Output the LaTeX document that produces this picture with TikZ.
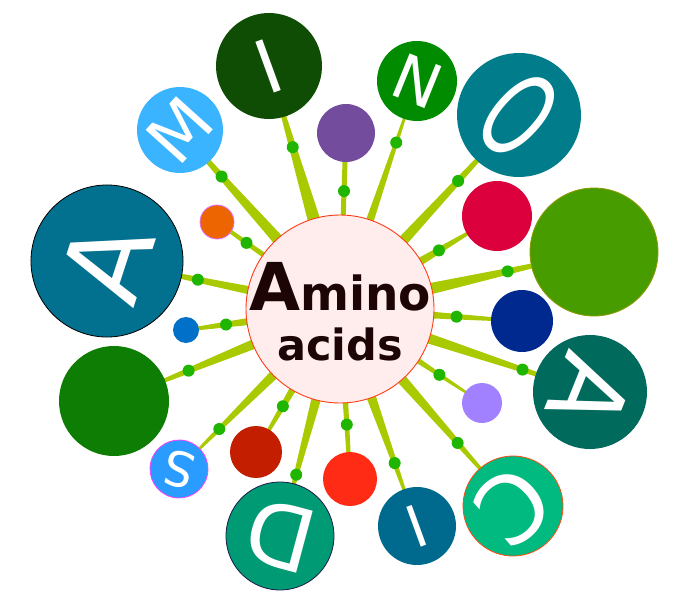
\documentclass[tikz,border=0pt]{standalone}
\usepackage{fontspec}
\setmainfont{DejaVu Sans}
\usepackage{graphicx}
\usetikzlibrary{calc}
\usetikzlibrary{backgrounds}

\definecolor{stem}{HTML}{A9C900}
\definecolor{knot}{HTML}{1FB500}
\definecolor{hubfill}{HTML}{FFECEC}
\definecolor{hubline}{HTML}{FF3C14}
\definecolor{hubtext}{HTML}{1E0505}
\definecolor{atealL}{HTML}{02708F}
\definecolor{msky}{HTML}{3BB4FF}
\definecolor{iforest}{HTML}{0E4D03}
\definecolor{plum}{HTML}{744C9E}
\definecolor{ngreen}{HTML}{008B00}
\definecolor{oteal}{HTML}{007C8A}
\definecolor{crimson}{HTML}{DC003C}
\definecolor{leafR}{HTML}{479D00}
\definecolor{leafRline}{HTML}{8E9B00}
\definecolor{navy}{HTML}{00298F}
\definecolor{atealR}{HTML}{006B5C}
\definecolor{lavender}{HTML}{A181FF}
\definecolor{cmint}{HTML}{00BA7F}
\definecolor{cline}{HTML}{FF4A14}
\definecolor{iblue}{HTML}{006A8E}
\definecolor{flame}{HTML}{FF2B14}
\definecolor{djade}{HTML}{009A74}
\definecolor{dline}{HTML}{1A1A4A}
\definecolor{brick}{HTML}{C41E00}
\definecolor{sblue}{HTML}{2A9BFF}
\definecolor{sline}{HTML}{FF40FF}
\definecolor{leafL}{HTML}{0E7D03}
\definecolor{dotblue}{HTML}{0070C8}
\definecolor{tangerine}{HTML}{EC6500}
\definecolor{oline}{HTML}{E070FF}

% tapered stem from the hub to #1, half widths #2 and #3, knot at pos #4
\newcommand{\stalk}[4]{%
        \fill[stem] ($(hub.center)!#2!90:(#1.center)$) -- ($(#1.center)!#3!-90:(hub.center)$)
            -- ($(#1.center)!#3!90:(hub.center)$) -- ($(hub.center)!#2!-90:(#1.center)$) -- cycle;
        \path (hub.center) -- (#1.center) node[knot, pos = #4] (k-#1) {};
}

\begin{document}
\begin{tikzpicture}[x = 1pt, y = -1pt,
        bubble/.style = {circle, inner sep = 0pt, text = white},
        knot/.style = {circle, fill = knot, inner sep = 0pt, minimum size = 12pt}]
        \useasboundingbox (0, 0) rectangle (700, 615);

        \node[bubble, fill = hubfill, draw = hubline, line width = 0.9pt, minimum size = 188pt] (hub) at (340, 309) {};
        \node[text = hubtext, align = center, font = \bfseries, inner sep = 0pt] (title) at (340, 312)
            {{\fontsize{66}{66}\selectfont A}{\fontsize{47}{47}\selectfont mino}\\[16pt]
             {\fontsize{43}{43}\selectfont acids}};

        \node[bubble, fill = atealL, draw = black, line width = 0.8pt, minimum size = 152pt,
            rotate = 72, font = \fontsize{110}{110}\selectfont] (a1) at (107, 261) {A};
        \node[bubble, fill = msky, minimum size = 86pt,
            rotate = 48, font = \fontsize{68}{68}\selectfont] (m1) at (180, 130) {M};
        \node[bubble, fill = iforest, minimum size = 106pt,
            rotate = 20, font = \fontsize{74}{74}\selectfont] (i1) at (269, 66) {I};
        \node[bubble, fill = ngreen, minimum size = 80pt,
            rotate = -22, font = \fontsize{62}{62}\selectfont] (n1) at (417, 81) {N};
        \node[bubble, fill = oteal, minimum size = 124pt,
            rotate = -42, font = \fontsize{118}{118}\selectfont] (o1) at (519, 115) {\scalebox{0.6}[1]{O}};
        \node[bubble, fill = atealR, minimum size = 114pt,
            rotate = -112, font = \fontsize{99}{99}\selectfont] (a2) at (590, 392) {A};
        \node[bubble, fill = cmint, draw = cline, line width = 0.8pt, minimum size = 100pt,
            rotate = -139, font = \fontsize{93}{93}\selectfont] (c1) at (513, 506) {C};
        \node[bubble, fill = iblue, minimum size = 78pt,
            rotate = -160, font = \fontsize{58}{58}\selectfont] (i2) at (417, 526) {I};
        \node[bubble, fill = djade, draw = dline, line width = 0.8pt, minimum size = 108pt,
            rotate = 165, font = \fontsize{88}{88}\selectfont] (d1) at (280, 536) {D};
        \node[bubble, fill = sblue, draw = sline, line width = 0.8pt, minimum size = 58pt,
            rotate = 165, font = \fontsize{48}{48}\selectfont] (s1) at (179, 469) {S};

        \node[bubble, fill = plum, minimum size = 58pt] (plum) at (346, 133) {};
        \node[bubble, fill = crimson, minimum size = 70pt] (crimson) at (497, 216) {};
        \node[bubble, fill = leafR, draw = leafRline, line width = 0.8pt, minimum size = 128pt] (leafR) at (594, 252) {};
        \node[bubble, fill = navy, minimum size = 62pt] (navy) at (522, 321) {};
        \node[bubble, fill = lavender, minimum size = 40pt] (lavender) at (482, 403) {};
        \node[bubble, fill = flame, minimum size = 54pt] (flame) at (350, 479) {};
        \node[bubble, fill = brick, minimum size = 52pt] (brick) at (256, 452) {};
        \node[bubble, fill = leafL, minimum size = 110pt] (leafL) at (114, 401) {};
        \node[bubble, fill = dotblue, minimum size = 26pt] (dotblue) at (186, 330) {};
        \node[bubble, fill = tangerine, draw = oline, line width = 0.8pt, minimum size = 34pt] (tangerine) at (217, 222) {};

        \begin{scope}[on background layer]
        \stalk{i1}{9.4pt}{0.7pt}{0.666}
        \stalk{m1}{8pt}{1.5pt}{0.74}
        \stalk{a1}{6pt}{1pt}{0.61}
        \stalk{tangerine}{3.8pt}{1.8pt}{0.76}
        \stalk{plum}{2.5pt}{2.5pt}{0.67}
        \stalk{n1}{6pt}{0.5pt}{0.73}
        \stalk{o1}{7.3pt}{1pt}{0.66}
        \stalk{crimson}{7.5pt}{0.5pt}{0.63}
        \stalk{leafR}{8.5pt}{0.5pt}{0.66}
        \stalk{navy}{5.5pt}{1.2pt}{0.64}
        \stalk{a2}{7.3pt}{1pt}{0.73}
        \stalk{lavender}{5pt}{0.8pt}{0.70}
        \stalk{c1}{7.5pt}{0.5pt}{0.68}
        \stalk{i2}{7.5pt}{0.5pt}{0.71}
        \stalk{flame}{3.8pt}{1.8pt}{0.68}
        \stalk{d1}{7.5pt}{0.5pt}{0.73}
        \stalk{brick}{6.5pt}{1pt}{0.68}
        \stalk{s1}{7.5pt}{0.5pt}{0.75}
        \stalk{leafL}{7.5pt}{0.5pt}{0.67}
        \stalk{dotblue}{6.5pt}{1.5pt}{0.74}
        \end{scope}
\end{tikzpicture}
\end{document}
